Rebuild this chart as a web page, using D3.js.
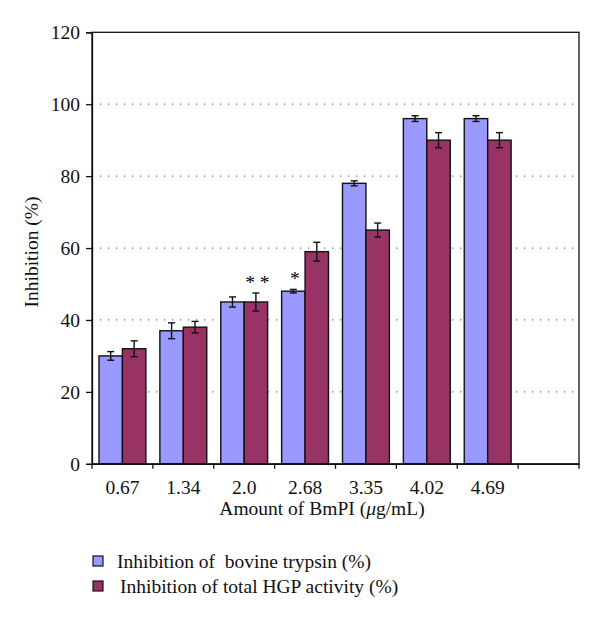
<!DOCTYPE html>
<html><head><meta charset="utf-8">
<script src="https://cdn.jsdelivr.net/npm/d3@7"></script>
<style>body{margin:0;background:#fff}</style>
</head><body>
<svg id="c" width="600" height="620"></svg>
<script>
const categories = ["0.67","1.34","2.0","2.68","3.35","4.02","4.69",""];
const series = ["Inhibition of  bovine trypsin (%)","Inhibition of total HGP activity (%)"];
const trypsin = [30, 37, 45, 48, 78, 96, 96];
const trypsinErr = [1.2, 2.2, 1.4, 0.5, 0.7, 0.8, 0.8];
const hgp = [32, 38, 45, 59, 65, 90, 90];
const hgpErr = [2.2, 1.6, 2.5, 2.6, 1.95, 2.1, 2.1];
const yTicks = [0,20,40,60,80,100,120];
const marks = [{cat:"2.0", s:1, text:"* *"},{cat:"2.68", s:0, text:"*"}];
const colors = ["#9999FF","#993366"];

const svg = d3.select("#c");
const L=92, R=579, T=32.3, B=463.8;
const FS = 19.5;
const x = d3.scaleBand().domain(categories).range([L,R]).padding(0);
const xi = d3.scaleBand().domain([0,1]).range([7, x.bandwidth()-7]);
const y = d3.scaleLinear().domain([0,120]).range([B,T]);
const font = "'Liberation Serif', 'DejaVu Serif', serif";

// gridlines
svg.append("g").selectAll("line").data(yTicks.filter(d=>d>0 && d<120)).join("line")
  .attr("x1",L).attr("x2",R).attr("y1",d=>y(d)).attr("y2",d=>y(d))
  .attr("stroke","#777").attr("stroke-width",1.3).attr("stroke-dasharray","1.3,6.7");

// bars
const data = [];
categories.forEach((c,i)=>{ if(i<trypsin.length){
  data.push({c, s:0, v:trypsin[i], e:trypsinErr[i]});
  data.push({c, s:1, v:hgp[i], e:hgpErr[i]});
}});
const g = svg.append("g");
g.selectAll("rect").data(data).join("rect")
  .attr("x",d=>x(d.c)+xi(d.s)).attr("width",xi.bandwidth())
  .attr("y",d=>y(d.v)).attr("height",d=>y(0)-y(d.v))
  .attr("fill",d=>colors[d.s]).attr("stroke","#111").attr("stroke-width",1.4);

// error bars
const eb = svg.append("g").attr("stroke","#111").attr("stroke-width",1.4);
data.forEach(d=>{
  const cx = x(d.c)+xi(d.s)+xi.bandwidth()/2;
  eb.append("line").attr("x1",cx).attr("x2",cx).attr("y1",y(d.v+d.e)).attr("y2",y(d.v-d.e));
  eb.append("line").attr("x1",cx-3.5).attr("x2",cx+3.5).attr("y1",y(d.v+d.e)).attr("y2",y(d.v+d.e));
  eb.append("line").attr("x1",cx-3.5).attr("x2",cx+3.5).attr("y1",y(d.v-d.e)).attr("y2",y(d.v-d.e));
});

// significance marks
marks.forEach(m=>{
  const i = categories.indexOf(m.cat);
  const v = m.s===0 ? trypsin[i]+trypsinErr[i] : hgp[i]+hgpErr[i];
  svg.append("text").attr("x",x(m.cat)+xi(m.s)+xi.bandwidth()/2+1.5).attr("y",y(v)-4)
    .attr("text-anchor","middle").attr("font-family",font).attr("font-size",FS)
    .attr("xml:space","preserve").style("white-space","pre").text(m.text);
});

// frame
svg.append("rect").attr("x",L).attr("y",T).attr("width",R-L).attr("height",B-T)
  .attr("fill","none").attr("stroke","#111").attr("stroke-width",1.3);

// axes
const yAxis = d3.axisLeft(y).tickValues(yTicks).tickSize(6).tickPadding(6);
const ya = svg.append("g").attr("transform",`translate(${L},0)`).call(yAxis);
ya.select(".domain").attr("stroke","#111").attr("stroke-width",1.3);
ya.selectAll(".tick line").attr("stroke","#111").attr("stroke-width",1.3);
ya.selectAll("text").attr("font-family",font).attr("font-size",FS).attr("fill","#111");

const xAxis = d3.axisBottom(x).tickSize(0).tickPadding(16);
const xa = svg.append("g").attr("transform",`translate(0,${B})`).call(xAxis);
xa.select(".domain").attr("stroke","#111").attr("stroke-width",1.3);
xa.selectAll("text").attr("font-family",font).attr("font-size",FS).attr("fill","#111");
// boundary ticks
const bounds = categories.map(c=>x(c)).concat([x(categories[categories.length-1])+x.bandwidth()]);
xa.selectAll(".bt").data(bounds).join("line").attr("class","bt")
  .attr("x1",d=>d).attr("x2",d=>d).attr("y1",0).attr("y2",5)
  .attr("stroke","#111").attr("stroke-width",1.3);

// axis titles
svg.append("text").attr("x",322).attr("y",515)
  .attr("text-anchor","middle").attr("font-family",font).attr("font-size",FS).attr("fill","#111")
  .html("Amount of BmPI (<tspan font-style='italic'>μ</tspan>g/mL)");
svg.append("text").attr("transform",`translate(38,252) rotate(-90)`)
  .attr("text-anchor","middle").attr("font-family",font).attr("font-size",FS).attr("fill","#111")
  .text("Inhibition (%)");

// legend
const lg = svg.append("g");
series.forEach((s,i)=>{
  const yy = 561 + i*25;
  lg.append("rect").attr("x",93).attr("y",yy-5).attr("width",10).attr("height",10)
    .attr("fill",colors[i]).attr("stroke","#111").attr("stroke-width",1.2);
  lg.append("text").attr("x",117 + i*3).attr("y",yy+7).attr("font-family",font).attr("font-size",FS)
    .attr("fill","#111").attr("xml:space","preserve").style("white-space","pre").text(s);
});
</script>
</body></html>
